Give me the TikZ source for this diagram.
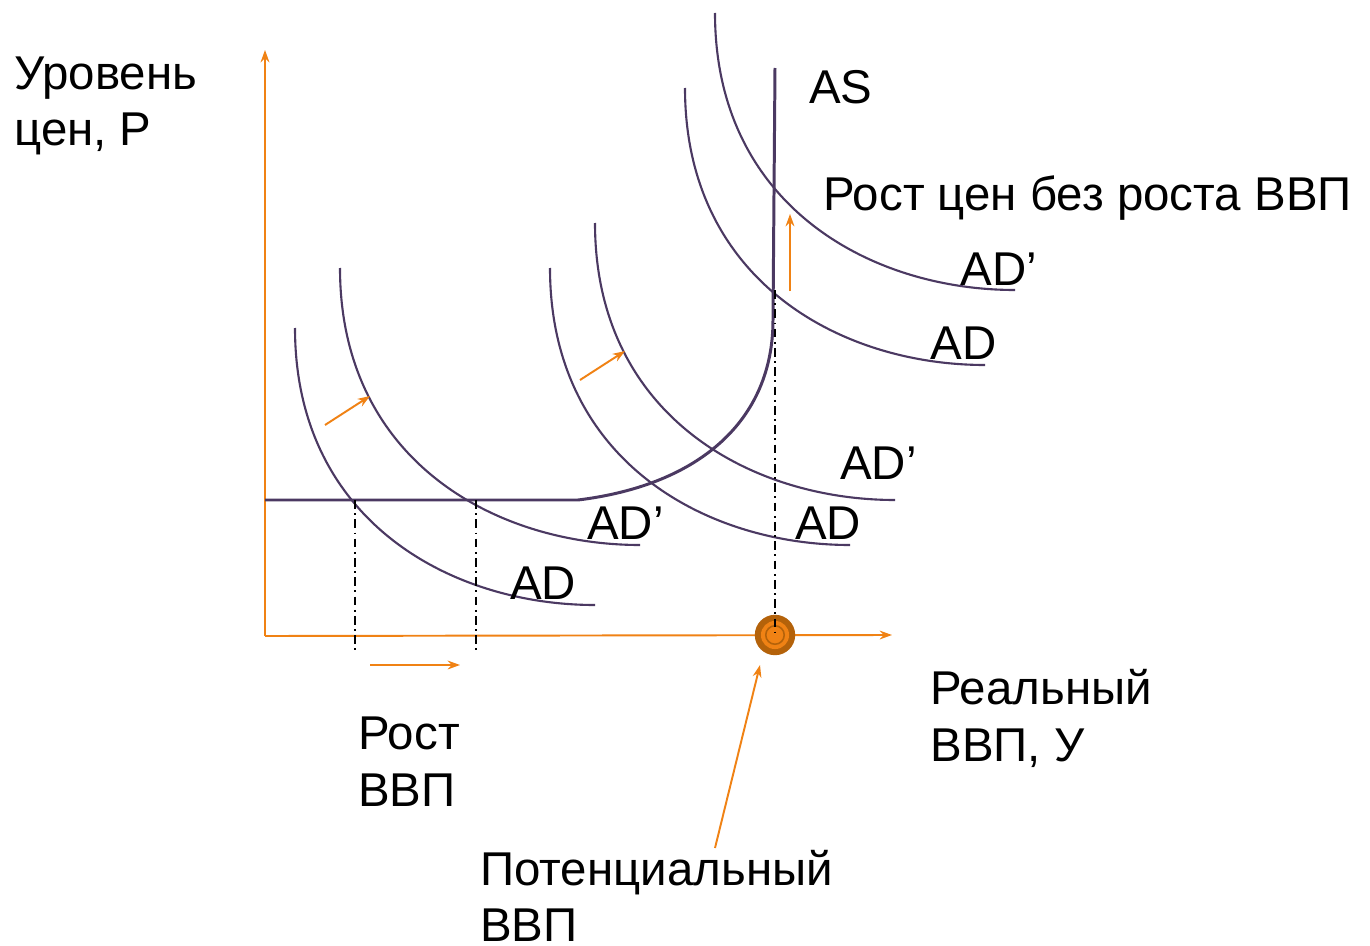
\documentclass[tikz,border=0pt]{standalone}
\usepackage{fontspec}
\setmainfont{Liberation Sans}
\usetikzlibrary{arrows.meta}
\definecolor{curvecol}{RGB}{75,57,98}
\definecolor{orgcol}{RGB}{240,130,20}
\definecolor{dorgcol}{RGB}{180,98,10}
\begin{document}
\begin{tikzpicture}[x=0.02cm,y=-0.02cm,
  adline/.style={draw=curvecol, line width=1.2pt},
  asline/.style={draw=curvecol, line width=1.7pt},
  axisline/.style={draw=orgcol, line width=1.1pt, -{Stealth[length=7pt,width=5pt]}},
  orgarrow/.style={draw=orgcol, line width=1.1pt, -{Stealth[length=7pt,width=5pt]}},
  dashdotline/.style={draw=black, line width=1.1pt, dash pattern=on 5pt off 2.5pt on 1pt off 2.5pt},
  lbl/.style={anchor=base west, inner sep=0pt, font=\fontsize{27}{32}\selectfont},
  adpic/.pic={\draw[adline] (0,0) .. controls (0,192) and (155,277) .. (300,277);}
]
\useasboundingbox[fill=white] (0,0) rectangle (1370,946);

% axes
\coordinate (O) at (265,636);
\coordinate (Ytop) at (265,50);
\coordinate (Xend) at (892,635);
\draw[axisline] (O) -- (Ytop);
\draw[axisline] (O) -- (Xend);

% AD curves
\pic at (295,328) {adpic};
\pic at (340,268) {adpic};
\pic at (550,268) {adpic};
\pic at (595,223) {adpic};
\pic at (685,88) {adpic};
\pic at (715,13) {adpic};

% AS curve
\coordinate (as0) at (265,500);
\coordinate (as1) at (578,500);
\coordinate (as2) at (773,320);
\coordinate (as3) at (775,68);
\draw[asline] (as0) -- (as1) .. controls (700,485) and (773,420) .. (as2) -- (as3);

% dash-dot guides
\coordinate (d1t) at (355,500); \coordinate (d1b) at (355,650);
\coordinate (d2t) at (476,500); \coordinate (d2b) at (476,650);
\coordinate (d3t) at (775,290); \coordinate (d3b) at (775,636);

% potential GDP dot
\node[circle, fill=dorgcol, minimum size=23pt, inner sep=0pt] (pot) at (775,635) {};
\node[circle, fill=orgcol, minimum size=16pt, inner sep=0pt] (potin) at (775,635) {};
\node[circle, draw=dorgcol, line width=0.9pt, fill=orgcol, minimum size=10.5pt, inner sep=0pt] (potc) at (775,635) {};

\draw[dashdotline] (d1t) -- (d1b);
\draw[dashdotline] (d2t) -- (d2b);
\draw[dashdotline] (d3t) -- (d3b);

% orange shift arrows
\coordinate (a1s) at (325,425); \coordinate (a1e) at (370,396);
\coordinate (a2s) at (580,380); \coordinate (a2e) at (625,351);
\coordinate (a3s) at (790,291); \coordinate (a3e) at (790,214);
\coordinate (a4s) at (370,665); \coordinate (a4e) at (460,665);
\coordinate (a5s) at (715,848); \coordinate (a5e) at (760,665);
\draw[orgarrow] (a1s) -- (a1e);
\draw[orgarrow] (a2s) -- (a2e);
\draw[orgarrow] (a3s) -- (a3e);
\draw[orgarrow] (a4s) -- (a4e);
\draw[orgarrow] (a5s) -- (a5e);

% labels
\node[lbl] (ylab1) at (14,90) {Уровень};
\node[lbl] (ylab2) at (14,146) {цен, Р};
\node[lbl] (aslab) at (809,104) {AS};
\node[lbl] (pricegrowth) at (823,211) {Рост цен без роста ВВП};
\node[lbl] (ad6) at (960,285) {AD’};
\node[lbl] (ad5) at (930,359) {AD};
\node[lbl] (ad4) at (840,479) {AD’};
\node[lbl] (ad3) at (795,539) {AD};
\node[lbl] (ad2) at (587,539) {AD’};
\node[lbl] (ad1) at (510,599) {AD};
\node[lbl] (xlab1) at (930,704) {Реальный};
\node[lbl] (xlab2) at (930,761) {ВВП, У};
\node[lbl] (gr1) at (358,749) {Рост};
\node[lbl] (gr2) at (358,806) {ВВП};
\node[lbl] (pl1) at (480,885) {Потенциальный};
\node[lbl] (pl2) at (480,941) {ВВП};
\end{tikzpicture}
\end{document}
